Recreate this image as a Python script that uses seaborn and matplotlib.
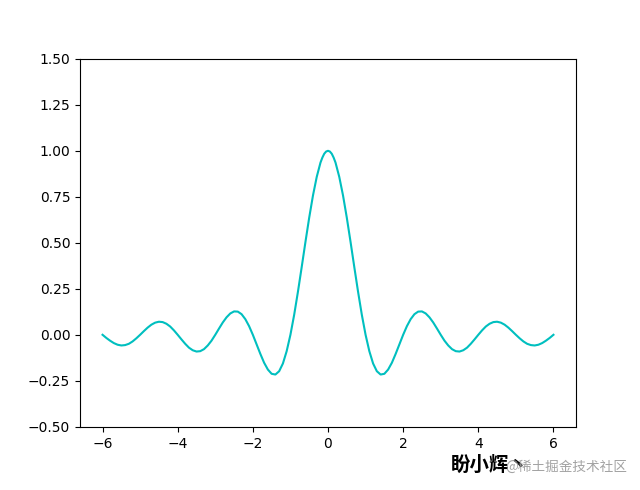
import matplotlib
matplotlib.use("Agg")
from matplotlib import pyplot as plt
import seaborn as sns

right_x = [0.0, 0.05, 0.1, 0.15, 0.2] + [round(0.1 * i, 1) for i in range(3, 61)]
right_y = [1.0, 0.996, 0.984, 0.963, 0.936, 0.858, 0.757, 0.637, 0.505, 0.368, 0.234, 0.109,
           0.0, -0.089, -0.156, -0.198, -0.216, -0.212, -0.189, -0.152, -0.104, -0.052,
           0.0, 0.047, 0.085, 0.112, 0.126, 0.127, 0.116, 0.095, 0.067, 0.034,
           0.0, -0.032, -0.058, -0.078, -0.089, -0.091, -0.084, -0.070, -0.049, -0.025,
           0.0, 0.024, 0.045, 0.060, 0.069, 0.071, 0.066, 0.055, 0.039, 0.020,
           0.0, -0.019, -0.036, -0.049, -0.056, -0.058, -0.054, -0.045, -0.032, -0.017,
           0.0]

xs = [-v for v in right_x[:0:-1]] + right_x
ys = right_y[:0:-1] + right_y

x_ticks = [-6, -4, -2, 0, 2, 4, 6]
y_ticks = [-0.5, -0.25, 0.0, 0.25, 0.5, 0.75, 1.0, 1.25, 1.5]

fig = plt.figure(figsize=(6.4, 4.9), dpi=100)
fig.subplots_adjust(left=0.125, right=0.9, top=0.88, bottom=0.129)
ax = fig.add_subplot(1, 1, 1)

sns.lineplot(x=xs, y=ys, color='c', linewidth=1.5, ax=ax)
ax.set_ylim(-0.5, 1.5)
ax.set_xticks(x_ticks)
ax.set_yticks(y_ticks)

# watermark at the bottom right
cjk = ['Noto Sans CJK SC', 'DejaVu Sans']
fig.text(0.705, 0.031, '盼小辉丶', family=cjk,
         fontsize=14, fontweight='bold', color='black', va='bottom')
fig.text(0.789, 0.033, '@稀土掘金技术社区', family=cjk,
         fontsize=9.8, color='#999999', alpha=0.9, va='bottom')

fig.savefig('out.png', dpi=100)
